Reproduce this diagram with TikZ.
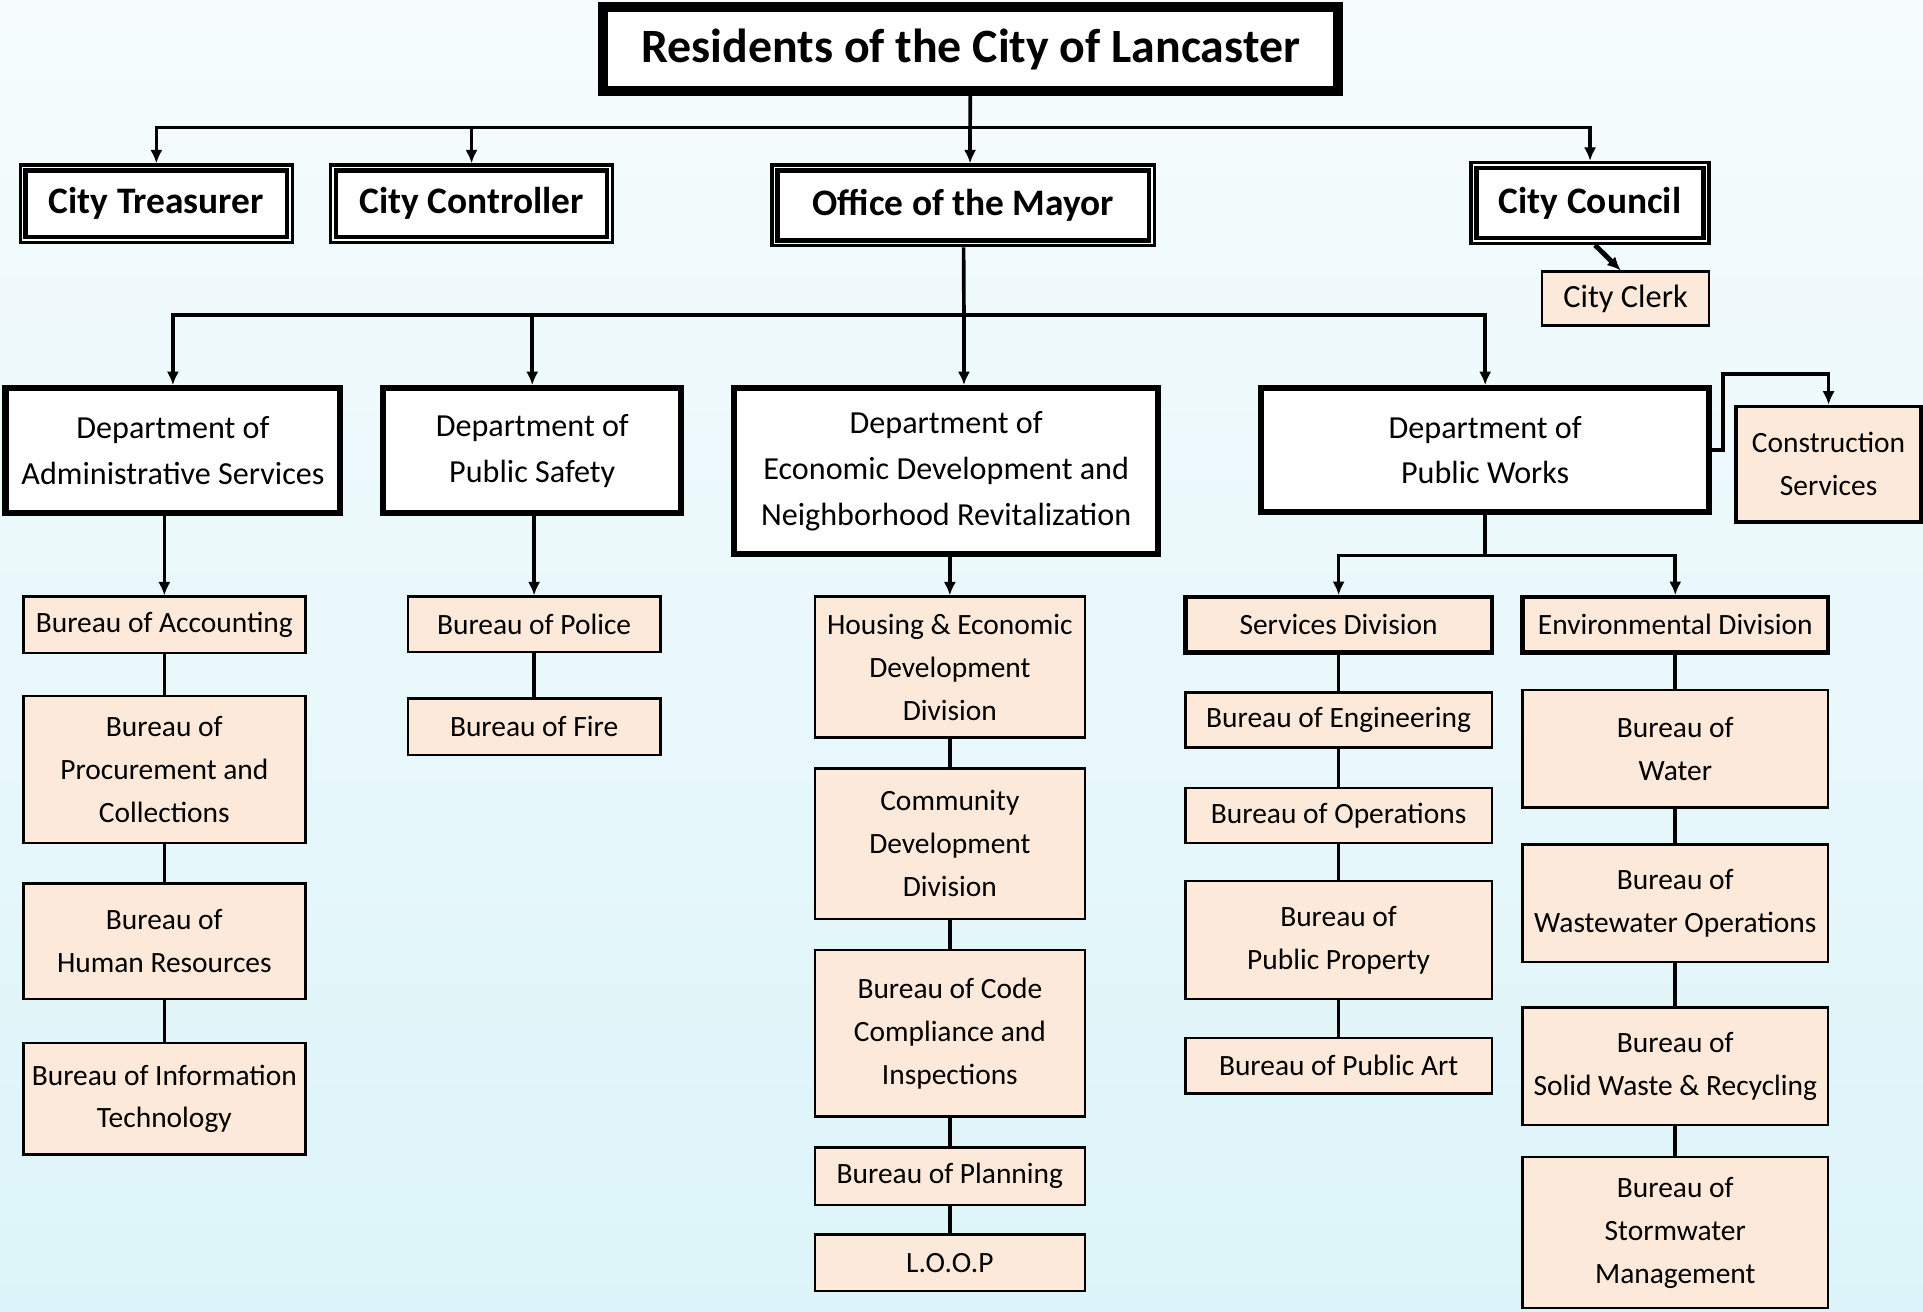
\documentclass[tikz,border=0pt]{standalone}
\usepackage{fontspec}
\setmainfont{Carlito}
\usetikzlibrary{arrows.meta}
\definecolor{peach}{RGB}{253,233,217}
\definecolor{bgtop}{RGB}{246,252,253}
\definecolor{bgbot}{RGB}{220,244,249}
\tikzset{
  wh/.style 2 args={minimum width=#1*0.5pt, minimum height=#2*0.5pt},
  topbox/.style={draw, line width=3.4pt, fill=white, inner sep=0pt, font=\fontsize{19.5}{22}\selectfont\bfseries},
  dblbox/.style={draw, line width=1.3pt, fill=white, inner sep=0pt, font=\fontsize{15.25}{18}\selectfont\bfseries},
  deptbox/.style={draw, line width=2.5pt, fill=white, inner sep=0pt, align=center, font=\fontsize{13.1}{18.7}\selectfont},
  burbox/.style={draw, line width=1pt, fill=peach, inner sep=0pt, align=center, font=\fontsize{12}{17.5}\selectfont},
  divbox/.style={burbox, line width=1.8pt},
  conn/.style={line width=1.5pt},
  arr/.style={conn, -{Latex[length=5.5pt,width=5pt]}}
}
\begin{document}
\begin{tikzpicture}[x=0.5pt,y=-0.5pt]
\useasboundingbox (0,0) rectangle (1568,1069);
\fill[top color=bgtop, bottom color=bgbot] (0,0) rectangle (1568,1069);

\node[topbox,wh={601}{70}] (res) at (791.5,40) {Residents of the City of Lancaster};
\draw[line width=0.9pt] ([xshift=3.6pt,yshift=-3.6pt]res.north west) rectangle ([xshift=-3.6pt,yshift=3.6pt]res.south east);

\node[dblbox,wh={222}{63}] (treas) at (127.5,166) {City Treasurer};
\node[dblbox,wh={230}{63}] (contr) at (384.5,166) {City Controller};
\node[dblbox,wh={312}{66}] (mayor) at (785.5,167.5) {Office of the Mayor};
\node[dblbox,wh={194}{66}] (council) at (1296.5,165.5) {City Council};
\foreach \n in {treas,contr,mayor,council}
  \draw[line width=1.8pt] ([xshift=2.85pt,yshift=-2.85pt]\n.north west) rectangle ([xshift=-2.85pt,yshift=2.85pt]\n.south east);
\node[burbox,font=\fontsize{13.2}{16}\selectfont,wh={136}{44}] (clerk) at (1325.5,243.5) {City Clerk};

\node[deptbox,wh={273}{102}] (admin) at (141,367.5) {Department of\\Administrative Services};
\node[deptbox,wh={243}{102}] (safety) at (434,367.5) {Department of\\Public Safety};
\node[deptbox,wh={346}{135}] (econ) at (771.5,384) {Department of\\Economic Development and\\Neighborhood Revitalization};
\node[deptbox,wh={365}{101}] (pw) at (1211,367) {Department of\\Public Works};
\node[burbox,line width=1.5pt,wh={151}{94}] (constr) at (1491,378.5) {Construction\\Services};

\node[burbox,wh={230}{46}] (acct) at (134,509.5) {Bureau of Accounting};
\node[burbox,wh={230}{120}] (proc) at (134,627.5) {Bureau of\\Procurement and\\Collections};
\node[burbox,wh={230}{94}] (hr) at (134,767.5) {Bureau of\\Human Resources};
\node[burbox,wh={230}{91}] (itech) at (134,896) {Bureau of Information\\Technology};

\node[burbox,wh={206}{45}] (police) at (435.5,509) {Bureau of Police};
\node[burbox,wh={206}{46}] (fire) at (435.5,592.5) {Bureau of Fire};

\node[burbox,wh={220}{115}] (housing) at (774.5,544) {Housing \& Economic\\Development\\Division};
\node[burbox,wh={220}{123}] (comm) at (774.5,688) {Community\\Development\\Division};
\node[burbox,wh={220}{136}] (code) at (774.5,842.5) {Bureau of Code\\Compliance and\\Inspections};
\node[burbox,wh={220}{47}] (plan) at (774.5,959) {Bureau of Planning};
\node[burbox,wh={220}{46}] (loop) at (774.5,1029.5) {L.O.O.P};

\node[divbox,wh={250}{45}] (srvdiv) at (1091.5,509.5) {Services Division};
\node[burbox,wh={250}{45}] (eng) at (1091.5,587) {Bureau of Engineering};
\node[burbox,wh={250}{45}] (ops) at (1091.5,665) {Bureau of Operations};
\node[burbox,wh={250}{96}] (prop) at (1091.5,766.5) {Bureau of\\Public Property};
\node[burbox,wh={250}{45}] (art) at (1091.5,869) {Bureau of Public Art};

\node[divbox,wh={249}{45}] (envdiv) at (1366,509.5) {Environmental Division};
\node[burbox,wh={249}{96}] (water) at (1366,610.5) {Bureau of\\Water};
\node[burbox,wh={249}{96}] (waste) at (1366,736.5) {Bureau of\\Wastewater Operations};
\node[burbox,wh={249}{96}] (solid) at (1366,869.5) {Bureau of\\Solid Waste \& Recycling};
\node[burbox,wh={249}{123}] (storm) at (1366,1005) {Bureau of\\Stormwater\\Management};

\coordinate (bus1) at (791,104);
\draw[conn] (res) -- (bus1);
\foreach \n in {treas,contr,council} \draw[arr] (bus1) -| (\n);
\draw[arr] (bus1) -- (bus1 |- mayor.north);
\draw[arr,line width=2pt] ([xshift=2pt]council.south) -- ([xshift=-2pt]clerk.north);

\coordinate (bus2) at (786,257);
\draw[conn] (mayor) -- (bus2);
\foreach \n in {admin,safety,pw} \draw[arr] (bus2) -| (\n);
\draw[arr] (bus2) -- (bus2 |- econ.north);

\coordinate (cjog) at (1405,305);
\draw[arr] (pw.east) -| (cjog) -| (constr);

\draw[arr] (admin.south -| acct.north) -- (acct.north);
\draw[conn] (acct) -- (proc) (proc) -- (hr) (hr) -- (itech);
\draw[arr] (safety.south -| police.north) -- (police.north);
\draw[conn] (police) -- (fire);
\draw[arr] (econ.south -| housing.north) -- (housing.north);
\draw[conn] (housing) -- (comm) (comm) -- (code) (code) -- (plan) (plan) -- (loop);

\coordinate (bus3) at (1211,453);
\draw[conn] (pw) -- (bus3);
\draw[arr] (bus3) -| (srvdiv);
\draw[arr] (bus3) -| (envdiv);
\draw[conn] (srvdiv) -- (eng) (eng) -- (ops) (ops) -- (prop) (prop) -- (art);
\draw[conn] (envdiv) -- (water) (water) -- (waste) (waste) -- (solid) (solid) -- (storm);
\end{tikzpicture}
\end{document}
